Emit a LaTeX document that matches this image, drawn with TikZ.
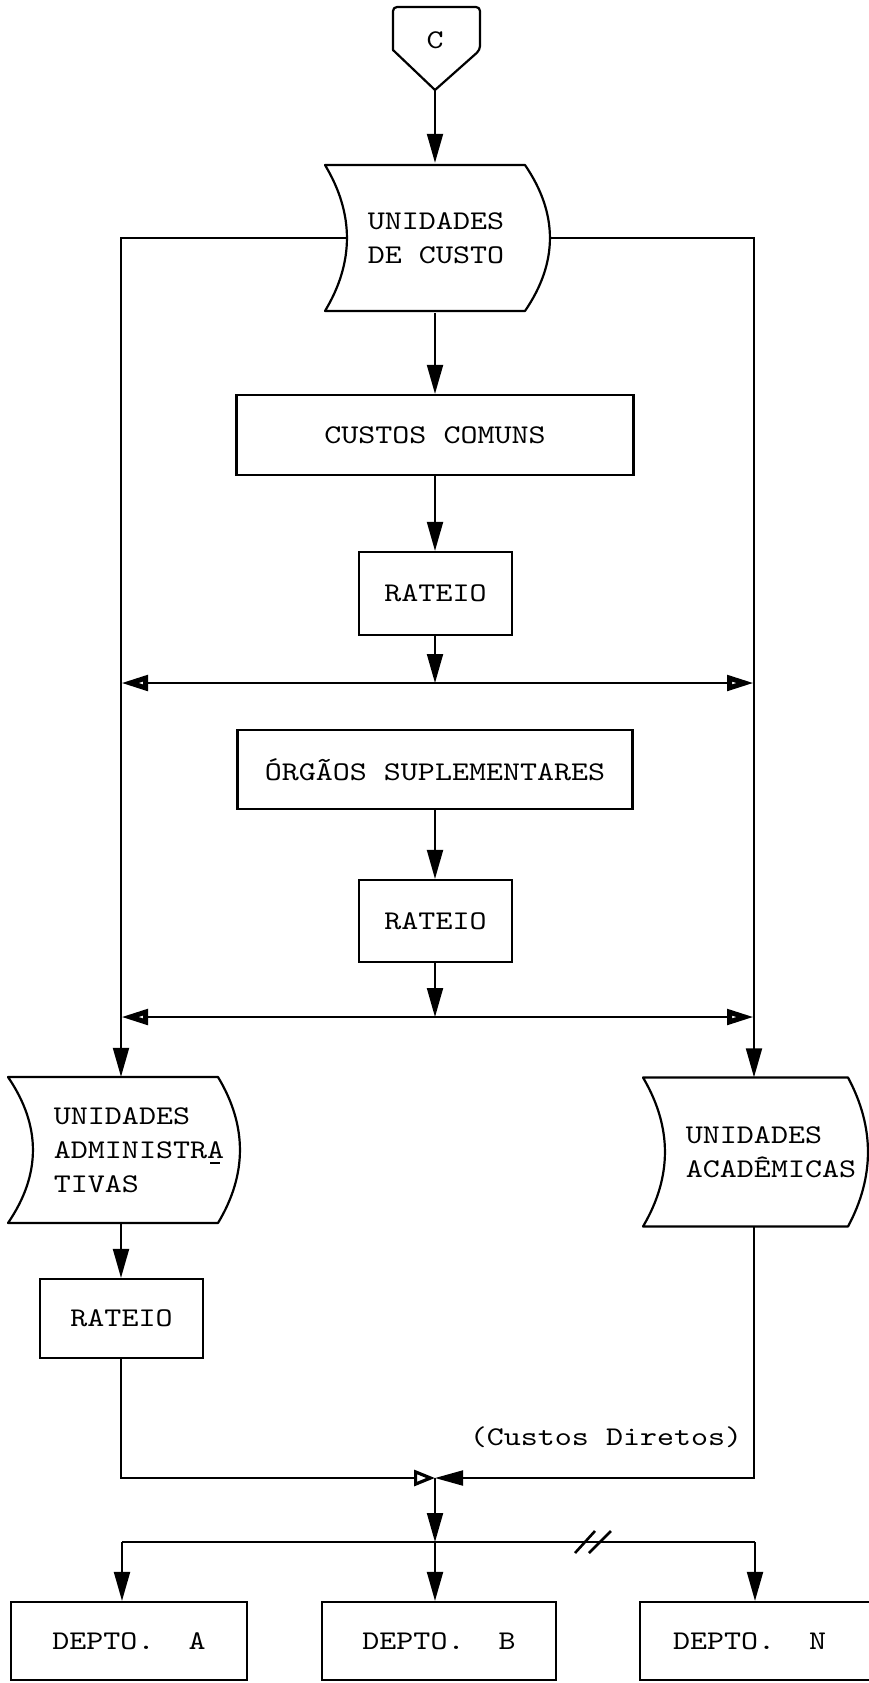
\documentclass[tikz,border=0pt]{standalone}
\usepackage{fontspec}
\usetikzlibrary{arrows.meta,calc}
\newfontfamily\typewriter[FakeStretch=1.2]{lmmono10-regular.otf}

% Outline of a stored-data symbol drawn around node #1:
% #2/#3 x offsets of the left/right corners from the centre, #4 half height,
% #5/#6 bulge of the left/right sides; also names the side points #1-lft, #1-rgt
\newcommand{\storedata}[6]{%
  \draw[boxline]
    ($(#1.center)+(#2,-#4)$) -- ($(#1.center)+(#3,-#4)$)
    .. controls ($(#1.center)+({#3+1.33*#6},{-#4/3})$) and ($(#1.center)+({#3+1.33*#6},{#4/3})$) .. ($(#1.center)+(#3,#4)$)
    -- ($(#1.center)+(#2,#4)$)
    .. controls ($(#1.center)+({#2+1.33*#5},{#4/3})$) and ($(#1.center)+({#2+1.33*#5},{-#4/3})$) .. ($(#1.center)+(#2,-#4)$)
    -- cycle;
  \coordinate (#1-lft) at ($(#1.center)+({#2+#5},0)$);
  \coordinate (#1-rgt) at ($(#1.center)+({#3+#6},0)$);
}

\begin{document}
\begin{tikzpicture}[x=1pt,y=-1pt,
  every node/.style={font=\typewriter\fontsize{27}{34}\selectfont, inner sep=0pt},
  boxline/.style={line width=2.2pt, line join=round},
  procbox/.style={draw, line width=2.2pt, rectangle},
  link/.style={line width=2pt},
  flow/.style={link, -{Triangle[length=29pt,width=16pt]}},
  branch/.style={link, -{Triangle[open,length=27pt,width=15pt,line width=5pt]}},
  inleft/.style={link, -{Triangle[open,length=21pt,width=16pt,line width=3.2pt]}},
  inright/.style={link, -{Triangle[length=28pt,width=15pt]}}]

\useasboundingbox (0,0) rectangle (869,1683);
\fill[white] (0,0) rectangle (869,1683);

% connector symbol at the top
\node (c) at (435,40) {C};
\draw[boxline, rounded corners=4pt] ($(c)+(-42,10)$) -- ($(c)+(-42,-33)$) -- ($(c)+(45,-33)$) -- ($(c)+(45,10)$) [sharp corners] -- ($(c)+(0,50)$) -- cycle;
\coordinate (c-tip) at ($(c)+(0,50)$);

% upper chain
\node[minimum height=150pt, align=left] (uc) at (436,238) {UNIDADES\\DE CUSTO};
\storedata{uc}{-111}{89}{73}{22}{25}
\node[procbox, minimum width=397pt, minimum height=80pt] (cc) at (435,435) {CUSTOS COMUNS};
\node[procbox, minimum width=153pt, minimum height=83pt] (r1) at (435.5,593.5) {RATEIO};
\coordinate (j1) at (435,683);
\node[procbox, minimum width=395pt, minimum height=79pt] (os) at (435,769.5) {ÓRGÃOS SUPLEMENTARES};
\node[procbox, minimum width=153pt, minimum height=82pt] (r2) at (435.5,921) {RATEIO};
\coordinate (j2) at (435,1017);

% the two side verticals
\coordinate (lv) at (121,0);
\coordinate (rv) at (754,0);

% lower blocks
\node[minimum height=146pt, align=left] (adm) at (139,1150) {UNIDADES\\ADMINISTR{A}\llap{\rule[-6pt]{10pt}{1.8pt}\hspace{4pt}}\\TIVAS};
\storedata{adm}{-131}{79}{73}{25}{22}
\node[minimum height=149pt, align=left] (acd) at (771,1152) {UNIDADES\\ACADÊMICAS};
\storedata{acd}{-128}{77}{74.5}{22}{20}
\node[procbox, minimum width=163pt, minimum height=79pt] (r3) at (121.5,1318.5) {RATEIO};
\coordinate (jn) at (435,1478);
\node (cd) at (606,1437) {(Custos Diretos)};
\coordinate (bus) at (435,1542);
\coordinate (ba) at (122,1542);
\coordinate (bn) at (755,1542);
\coordinate (brk) at (593,1542);
\node[procbox, minimum width=236pt, minimum height=78pt] (da) at (129,1641) {DEPTO.\ \ A};
\node[procbox, minimum width=234pt, minimum height=78pt] (db) at (439,1641) {DEPTO.\ \ B};
\node[procbox, minimum height=78pt, inner xsep=33pt] (dn) at (760,1641) {\makebox[174pt][l]{DEPTO.\ \ N}};

% connectors along the central axis
\draw[flow] (c-tip) -- (c-tip |- uc.north);
\draw[flow] (uc.south -| j1) -- (cc.north -| j1);
\draw[flow] (cc.south -| j1) -- (r1.north -| j1);
\draw[flow] (r1.south -| j1) -- (j1);
\draw[branch] (j1) -- (j1 -| lv);
\draw[branch] (j1) -- (j1 -| rv);
\draw[flow] (os.south -| j1) -- (r2.north -| j1);
\draw[flow] (r2.south -| j1) -- (j2);
\draw[branch] (j2) -- (j2 -| lv);
\draw[branch] (j2) -- (j2 -| rv);

% side verticals
\draw[flow] (uc-lft) -- (uc-lft -| lv) -- (lv |- adm.north);
\draw[flow] (uc-rgt) -- (uc-rgt -| rv) -- (rv |- acd.north);
\draw[flow] (lv |- adm.south) -- (lv |- r3.north);
\draw[inleft] (lv |- r3.south) -- (lv |- jn) -- (jn);
\draw[inright] (rv |- acd.south) -- (rv |- jn) -- (jn);

% distribution to the departments
\draw[flow] (jn) -- (bus);
\draw[link] (ba) -- (bn);
\draw[link, line width=2.6pt] ($(brk)+(-18,11)$) -- ($(brk)+(2,-11)$);
\draw[link, line width=2.6pt] ($(brk)+(-4,11)$) -- ($(brk)+(18,-11)$);
\draw[flow] (ba) -- (ba |- da.north);
\draw[flow] (bus) -- (bus |- db.north);
\draw[flow] (bn) -- (bn |- dn.north);
\end{tikzpicture}
\end{document}
